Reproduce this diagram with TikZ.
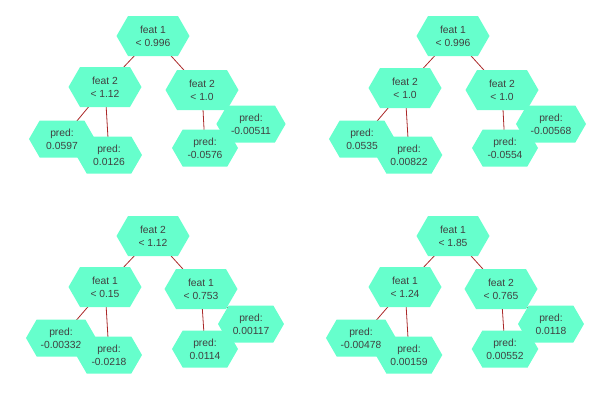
\documentclass[tikz,border=0pt]{standalone}
\usepackage{fontspec}
\setmainfont{Liberation Sans}
\usetikzlibrary{shapes.symbols}
\pgfdeclarelayer{background}
\pgfsetlayers{background,main}
\definecolor{hexfill}{RGB}{102,255,204}
\definecolor{edgered}{RGB}{170,40,40}
\definecolor{labelgray}{RGB}{64,64,64}

\begin{document}
\begin{tikzpicture}[x=1pt, y=-1pt,
    hexnode/.style={signal, signal to=east and west, signal pointer angle=120,
        fill=hexfill, draw=none, text=labelgray, align=center,
        inner xsep=4pt, inner ysep=3pt,
        font=\fontsize{10.3}{13.3}\selectfont},
    splitnode/.style={hexnode, minimum width=73pt, minimum height=40pt},
    leafnode/.style={hexnode, minimum width=66pt, minimum height=37pt},
    treeedge/.style={draw=edgered, line width=0.8pt}]
    \useasboundingbox (0,0) rectangle (600,400);

    % Tree 1
    \node[splitnode] (aroot) at (153,36) {feat 1\\< 0.996};
    \node[splitnode] (aleft) at (105,87) {feat 2\\< 1.12};
    \node[splitnode] (aright) at (202,90) {feat 2\\< 1.0};
    \node[leafnode] (aleftleft) at (62,139) {pred:\\0.0597};
    \node[leafnode] (aleftright) at (109,155) {pred:\\0.0126};
    \node[leafnode] (arightright) at (251,124) {pred:\\-0.00511};
    \node[leafnode] (arightleft) at (205,148) {pred:\\-0.0576};

    % Tree 2
    \node[splitnode] (broot) at (453,36) {feat 1\\< 0.996};
    \node[splitnode] (bleft) at (405,88) {feat 2\\< 1.0};
    \node[splitnode] (bright) at (502,90) {feat 2\\< 1.0};
    \node[leafnode] (bleftleft) at (362,139) {pred:\\0.0535};
    \node[leafnode] (bleftright) at (409,155) {pred:\\0.00822};
    \node[leafnode] (brightright) at (551,124) {pred:\\-0.00568};
    \node[leafnode] (brightleft) at (505,148) {pred:\\-0.0554};

    % Tree 3
    \node[splitnode] (croot) at (153,236) {feat 2\\< 1.12};
    \node[splitnode] (cleft) at (105,287) {feat 1\\< 0.15};
    \node[splitnode] (cright) at (201,289) {feat 1\\< 0.753};
    \node[leafnode] (cleftleft) at (61,338) {pred:\\-0.00332};
    \node[leafnode] (cleftright) at (109,355) {pred:\\-0.0218};
    \node[leafnode] (crightright) at (251,324) {pred:\\0.00117};
    \node[leafnode] (crightleft) at (205,349) {pred:\\0.0114};

    % Tree 4
    \node[splitnode] (droot) at (453,236) {feat 1\\< 1.85};
    \node[splitnode] (dleft) at (405,287) {feat 1\\< 1.24};
    \node[splitnode] (dright) at (501,289) {feat 2\\< 0.765};
    \node[leafnode] (dleftleft) at (361,338) {pred:\\-0.00478};
    \node[leafnode] (dleftright) at (409,355) {pred:\\0.00159};
    \node[leafnode] (drightright) at (551,324) {pred:\\0.0118};
    \node[leafnode] (drightleft) at (505,349) {pred:\\0.00552};

    % Edges
    \begin{pgfonlayer}{background}
    \foreach \t in {a,b,c,d} {
        \draw[treeedge] (\t root.center) -- (\t left.center);
        \draw[treeedge] (\t root.center) -- (\t right.center);
        \draw[treeedge] (\t left.center) -- (\t leftleft.center);
        \draw[treeedge] (\t left.center) -- (\t leftright.center);
        \draw[treeedge] (\t right.center) -- (\t rightleft.center);
        \draw[treeedge] (\t right.center) -- (\t rightright.center);
    }
    \end{pgfonlayer}
\end{tikzpicture}
\end{document}
